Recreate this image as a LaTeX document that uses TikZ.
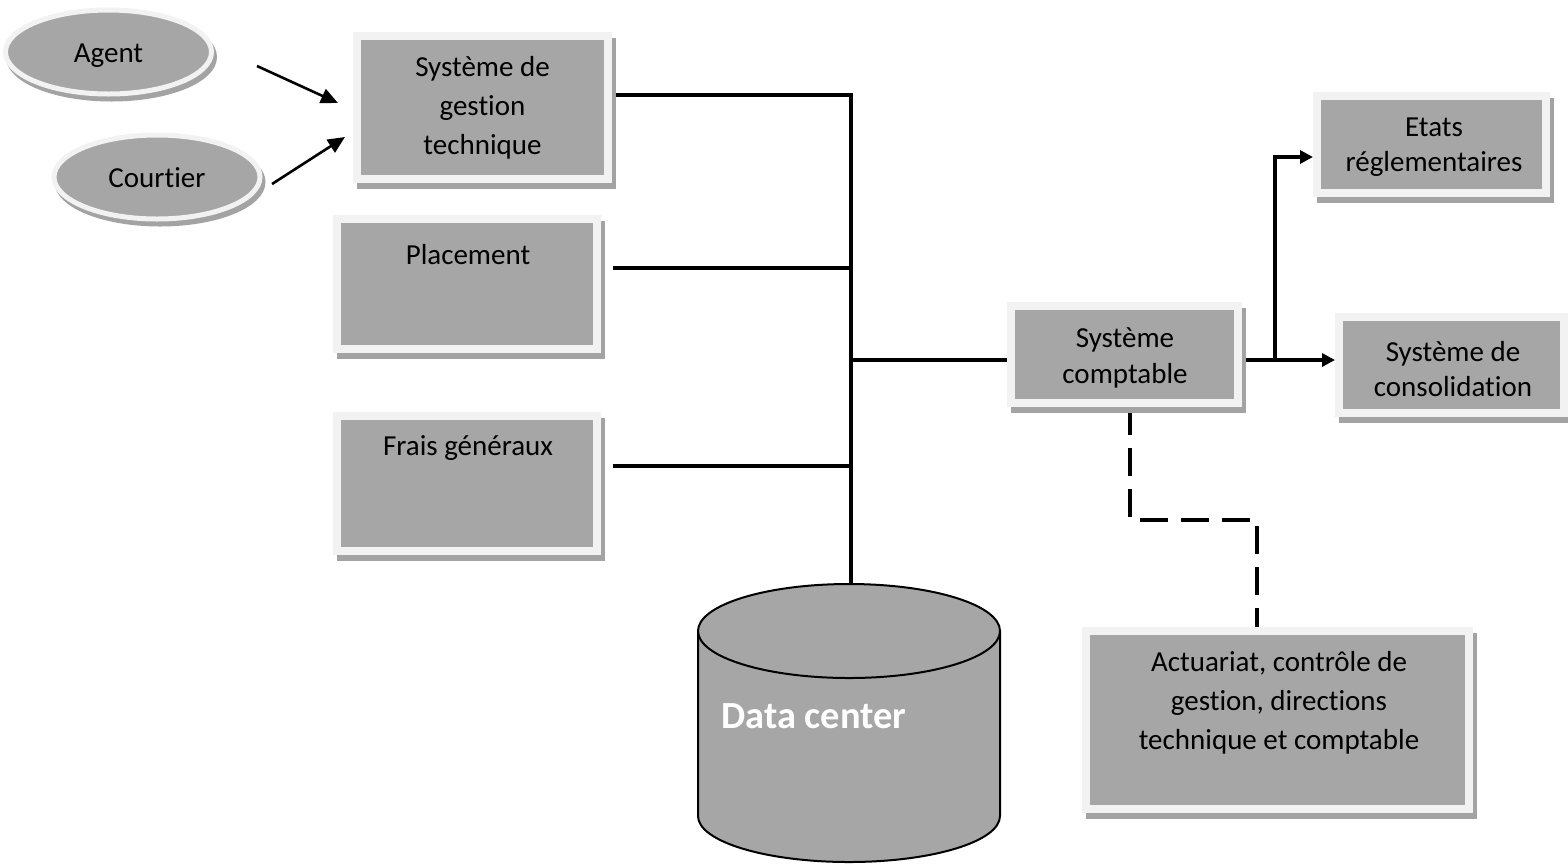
\documentclass[tikz,border=0pt]{standalone}
\usepackage{fontspec}
\setmainfont{Carlito}[Ligatures=NoCommon]
\usetikzlibrary{shapes.geometric,shadows,arrows.meta,backgrounds}
\definecolor{boxgray}{HTML}{A6A6A6}
\definecolor{framegray}{HTML}{F2F2F2}
\definecolor{shadgray}{HTML}{A3A3A3}
\begin{document}
\begin{tikzpicture}[x=0.5pt,y=-0.5pt,
  txt/.style={font=\fontsize{14.5}{19.5}\selectfont, align=center, inner sep=0pt},
  txttwo/.style={font=\fontsize{14.5}{17.8}\selectfont},
  panel/.style={rectangle, fill=boxgray, draw=framegray, line width=4pt, inner sep=0pt, txt,
    general shadow={fill=shadgray, draw=shadgray, line width=4pt, shadow xshift=1.75pt, shadow yshift=-2.75pt}},
  oval/.style={ellipse, fill=boxgray, draw=framegray, line width=2.5pt, inner sep=0pt,
    minimum width=103pt, minimum height=42pt, txt, text height=11pt, text depth=1pt,
    general shadow={fill=shadgray, draw=shadgray, line width=2.5pt, shadow xshift=1.5pt, shadow yshift=-2.5pt}},
  bus/.style={line width=1.6pt},
  inarrow/.style={line width=1.3pt, -{Triangle[length=8.5pt,width=7.5pt]}},
  outarrow/.style={line width=1.6pt, -{Triangle[length=6.5pt,width=6.5pt]}},
  dashline/.style={line width=2pt, dash pattern=on 14pt off 6.5pt}
]
\useasboundingbox (0,0) rectangle (1568,864);

% actors
\node[oval] (agent) at (108.5,52) {Agent};
\node[oval] (courtier) at (157,177) {Courtier};

% left systems
\node[panel, minimum width=125.5pt, minimum height=71.5pt] (sgt) at (482.5,107.5) {Système de\\gestion\\technique};
\node[panel, minimum width=130pt, minimum height=65pt] (plac) at (467,284) {};
\node[txt] (plact) at (468,255) {Placement};
\node[panel, minimum width=130pt, minimum height=67.5pt] (frais) at (467,483.5) {};
\node[txt] (fraist) at (468,448) {Frais généraux};

% right systems
\node[panel, minimum width=113.5pt, minimum height=48.5pt] (comp) at (1124.5,354.5) {};
\node[txt, txttwo] (compt) at (1125,358) {Système\\comptable};
\node[panel, minimum width=114.5pt, minimum height=48.5pt] (etats) at (1431.5,144.5) {};
\node[txt, txttwo] (etatst) at (1434,147) {Etats\\réglementaires};
\node[panel, minimum width=112.5pt, minimum height=48pt] (cons) at (1451.5,365) {};
\node[txt, txttwo] (const) at (1453,369) {Système de\\consolidation};
\node[panel, minimum width=191.5pt, minimum height=89pt] (act) at (1277.5,720) {};
\node[txt] (actt) at (1279,703) {Actuariat, contrôle de\\gestion, directions\\technique et comptable};

% data center cylinder
\fill[boxgray] (698,631) -- (698,816) arc[start angle=180, end angle=0, x radius=151, y radius=46] -- (1000,631) -- cycle;
\draw[line width=1pt] (698,631) -- (698,816) arc[start angle=180, end angle=0, x radius=151, y radius=46] -- (1000,631);
\draw[line width=1pt, fill=boxgray] (849,631) ellipse[x radius=151, y radius=47];
\node[anchor=west, text=white, inner sep=0pt, font=\bfseries\fontsize{19.2}{23}\selectfont] (dct) at (721,716) {Data center};
\coordinate (dctop) at (851,585);

% connectors
\coordinate (j1) at (851,95);
\coordinate (j2) at (851,268);
\coordinate (j3) at (851,466);
\coordinate (j4) at (851,360);
\coordinate (j5) at (1275,360);
\coordinate (j6) at (1275,157);
\coordinate (d1) at (1130,520);
\coordinate (d2) at (1257,520);
\coordinate (a1) at (257,66);
\coordinate (a2) at (338,103);
\coordinate (c1) at (272,184);
\coordinate (c2) at (345,137);

\begin{scope}[on background layer]
\draw[bus] (sgt.east |- j1) -- (j1) -- (dctop);
\draw[bus, shorten <=6pt] (plac.east |- j2) -- (j2);
\draw[bus, shorten <=6pt] (frais.east |- j3) -- (j3);
\draw[bus] (j4) -- (comp.west |- j4);
\draw[outarrow] (comp.east |- j5) -- (cons.west |- j5);
\draw[outarrow] (j5) -- (j6) -- (etats.west |- j6);
\draw[dashline] (comp.south -| d1) -- (d1) -- (d2) -- (act.north -| d2);
\end{scope}
\draw[inarrow] (a1) -- (a2);
\draw[inarrow] (c1) -- (c2);
\end{tikzpicture}
\end{document}
